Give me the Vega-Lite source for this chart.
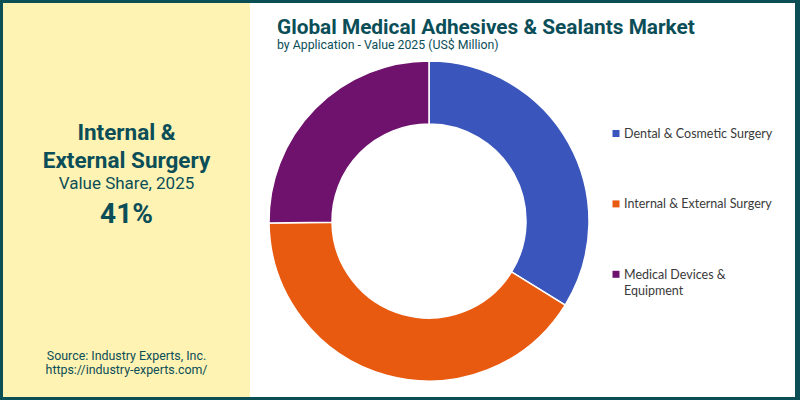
{
  "$schema": "https://vega.github.io/schema/vega-lite/v6.json",
  "background": "#0c4e56",
  "padding": {"left": 3, "top": 3, "right": 5, "bottom": 3},
  "config": {"view": {"stroke": null}, "concat": {"spacing": 0}, "text": {"font": "Roboto"}},
  "datasets": {
    "apps": [
      {"app": "Dental & Cosmetic Surgery", "share": 0.338, "legend": "Dental & Cosmetic Surgery"},
      {"app": "Internal & External Surgery", "share": 0.41, "legend": "Internal & External Surgery"},
      {"app": "Medical Devices & Equipment", "share": 0.252, "legend": "Medical Devices &\nEquipment"}
    ],
    "meta": [
      {"title": "Global Medical Adhesives & Sealants Market", "subtitle": "by Application - Value 2025 (US$ Million)", "headline1": "Internal &", "headline2": "External Surgery", "kpi": "Value Share, 2025", "source": "Source: Industry Experts, Inc.", "url": "https://industry-experts.com/"}
    ]
  },
  "spacing": 0,
  "bounds": "flush",
  "hconcat": [
    {
      "width": 247,
      "height": 394,
      "view": {"fill": "#fff3b3", "stroke": null},
      "layer": [
        {"data": {"name": "meta"}, "mark": {"type": "text", "font": "Roboto", "fontSize": 22.5, "fontWeight": "bold", "color": "#0b4e58", "baseline": "alphabetic", "dy": -60}, "encoding": {"text": {"field": "headline1"}}},
        {"data": {"name": "meta"}, "mark": {"type": "text", "font": "Roboto", "fontSize": 22.5, "fontWeight": "bold", "color": "#0b4e58", "baseline": "alphabetic", "dy": -32}, "encoding": {"text": {"field": "headline2"}}},
        {"data": {"name": "meta"}, "mark": {"type": "text", "font": "Roboto", "fontSize": 17, "color": "#0b4e58", "baseline": "alphabetic", "dy": -11}, "encoding": {"text": {"field": "kpi"}}},
        {"data": {"name": "apps"}, "transform": [{"filter": "datum.app === 'Internal & External Surgery'"}], "mark": {"type": "text", "font": "Roboto", "fontSize": 28, "fontWeight": "bold", "color": "#0b4e58", "baseline": "alphabetic", "dy": 23}, "encoding": {"text": {"field": "share", "type": "quantitative", "format": ".0%"}}},
        {"data": {"name": "meta"}, "mark": {"type": "text", "font": "Roboto", "fontSize": 12.4, "color": "#0b4e58", "baseline": "alphabetic", "dy": 160}, "encoding": {"text": {"field": "source"}}},
        {"data": {"name": "meta"}, "mark": {"type": "text", "font": "Roboto", "fontSize": 12.4, "color": "#0b4e58", "baseline": "alphabetic", "dy": 174}, "encoding": {"text": {"field": "url"}}}
      ]
    },
    {
      "spacing": 0,
      "bounds": "flush",
      "vconcat": [
        {
          "width": 545,
          "height": 42,
          "view": {"fill": "white", "stroke": null},
          "data": {"name": "meta"},
          "mark": {"type": "text", "align": "left", "baseline": "alphabetic", "dx": -245.5, "dy": 10, "font": "Roboto", "fontSize": 20.8, "fontWeight": "bold", "color": "#0b4e58"},
          "encoding": {"text": {"field": "title"}}
        },
        {
          "spacing": 0,
          "bounds": "flush",
          "hconcat": [
            {
              "width": 358,
              "height": 352,
              "view": {"fill": "white", "stroke": null},
              "layer": [
                {
                  "data": {"name": "apps"},
                  "mark": {"type": "arc", "innerRadius": 97, "outerRadius": 160, "stroke": "white", "strokeWidth": 1.5},
                  "encoding": {
                    "theta": {"field": "share", "type": "quantitative", "stack": true},
                    "color": {"field": "app", "type": "nominal", "legend": null, "scale": {"domain": ["Dental & Cosmetic Surgery", "Internal & External Surgery", "Medical Devices & Equipment"], "range": ["#3a56bc", "#e85a10", "#6e126e"]}}
                  }
                },
                {
                  "data": {"name": "meta"},
                  "mark": {"type": "text", "align": "left", "baseline": "alphabetic", "dx": -152, "dy": -172.5, "font": "Roboto", "fontSize": 12.3, "color": "#0b4e58"},
                  "encoding": {"text": {"field": "subtitle"}}
                }
              ]
            },
            {
              "width": 187,
              "height": 352,
              "view": {"fill": "white", "stroke": null},
              "data": {"name": "apps"},
              "encoding": {
                "y": {"field": "app", "type": "nominal", "axis": null, "scale": {"type": "band", "paddingInner": 0, "paddingOuter": 1, "align": 0.3786}}
              },
              "layer": [
                {
                  "mark": {"type": "square", "size": 49, "filled": true, "opacity": 1},
                  "encoding": {
                    "x": {"value": 8},
                    "color": {"field": "app", "type": "nominal", "legend": null}
                  }
                },
                {
                  "mark": {"type": "text", "align": "left", "baseline": "alphabetic", "dy": 4.5, "font": "Lato", "fontSize": 12.5, "color": "#3a3a3a", "lineBreak": "\n", "lineHeight": 16},
                  "encoding": {
                    "x": {"value": 16},
                    "text": {"field": "legend"}
                  }
                }
              ]
            }
          ]
        }
      ]
    }
  ]
}
